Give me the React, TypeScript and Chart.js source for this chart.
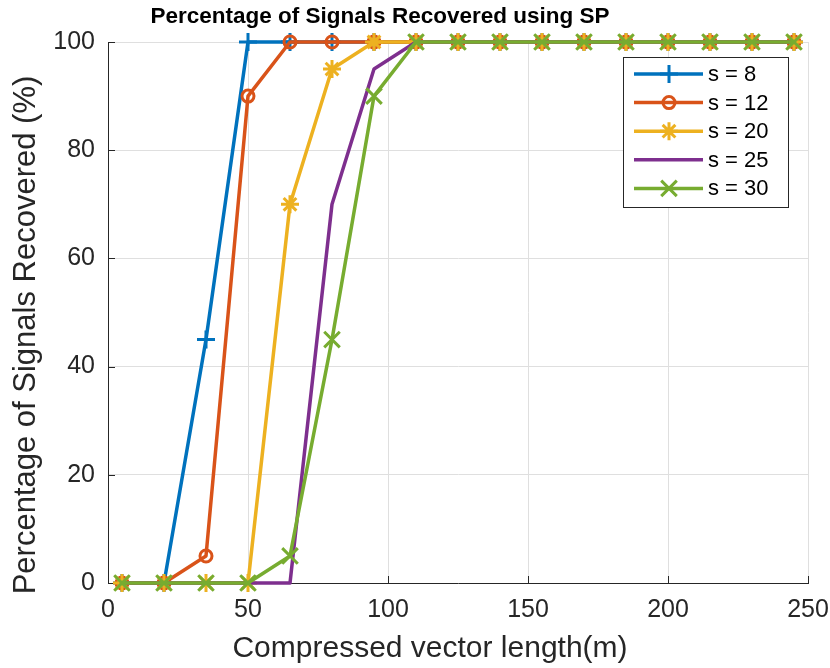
import React, { useEffect, useRef } from 'react';
import { Chart, registerables } from 'chart.js';

Chart.register(...registerables);

const xValues = [5, 20, 35, 50, 65, 80, 95, 110, 125, 140, 155, 170, 185, 200, 215, 230, 245];
const s8 = [0, 0, 45, 100, 100, 100, 100, 100, 100, 100, 100, 100, 100, 100, 100, 100, 100];
const s12 = [0, 0, 5, 90, 100, 100, 100, 100, 100, 100, 100, 100, 100, 100, 100, 100, 100];
const s20 = [0, 0, 0, 0, 70, 95, 100, 100, 100, 100, 100, 100, 100, 100, 100, 100, 100];
const s25 = [0, 0, 0, 0, 0, 70, 95, 100, 100, 100, 100, 100, 100, 100, 100, 100, 100];
const s30 = [0, 0, 0, 0, 5, 45, 90, 100, 100, 100, 100, 100, 100, 100, 100, 100, 100];

const seriesLabels = ['s = 8', 's = 12', 's = 20', 's = 25', 's = 30'];
const seriesValues = [s8, s12, s20, s25, s30];
const seriesColors = ['#0072BD', '#D95319', '#EDB120', '#7E2F8E', '#77AC30'];
const seriesMarkers = ['cross', 'circle', 'star', 'none', 'crossRot'];
const markerRadii = [9, 6, 9, 0, 11];

const xTicks = [0, 50, 100, 150, 200, 250];
const yTicks = [0, 20, 40, 60, 80, 100];

const titleText = 'Percentage of Signals Recovered using SP';
const xTitle = 'Compressed vector length(m)';
const yTitle = 'Percentage of Signals Recovered (%)';

const FONT = '"Liberation Sans", Arial, Helvetica, sans-serif';
const AXIS_COLOR = '#262626';

function drawMarker(ctx: CanvasRenderingContext2D, style: string, x: number, y: number, r: number) {
  if (style === 'none' || r <= 0) return;
  ctx.beginPath();
  if (style === 'cross' || style === 'star') {
    ctx.moveTo(x, y - r);
    ctx.lineTo(x, y + r);
    ctx.moveTo(x - r, y);
    ctx.lineTo(x + r, y);
  }
  if (style === 'crossRot' || style === 'star') {
    const d = r * Math.SQRT1_2;
    ctx.moveTo(x - d, y - d);
    ctx.lineTo(x + d, y + d);
    ctx.moveTo(x - d, y + d);
    ctx.lineTo(x + d, y - d);
  }
  if (style === 'circle') {
    ctx.arc(x, y, r, 0, Math.PI * 2);
  }
  ctx.stroke();
}

const extrasPlugin = {
  id: 'matlabExtras',
  beforeDatasetsDraw(chart: any) {
    const ctx: CanvasRenderingContext2D = chart.ctx;
    const xs = chart.scales.x;
    const ys = chart.scales.y;
    const area = chart.chartArea;
    const tl = 7;
    ctx.save();
    ctx.strokeStyle = AXIS_COLOR;
    ctx.lineWidth = 1;
    ctx.beginPath();
    for (const t of xTicks) {
      const px = Math.round(xs.getPixelForValue(t)) + 0.5;
      ctx.moveTo(px, area.bottom);
      ctx.lineTo(px, area.bottom - tl);
    }
    for (const t of yTicks) {
      const py = Math.round(ys.getPixelForValue(t)) + 0.5;
      ctx.moveTo(area.left, py);
      ctx.lineTo(area.left + tl, py);
    }
    ctx.stroke();
    ctx.restore();
  },
  afterDraw(chart: any) {
    const ctx: CanvasRenderingContext2D = chart.ctx;
    ctx.save();
    // Title
    ctx.fillStyle = '#000000';
    ctx.font = `bold 22.5px ${FONT}`;
    ctx.textAlign = 'center';
    ctx.textBaseline = 'alphabetic';
    ctx.fillText(titleText, 380, 23);
    // X axis title
    ctx.fillStyle = AXIS_COLOR;
    ctx.font = `30px ${FONT}`;
    ctx.fillText(xTitle, 430, 657);
    // Y axis title
    ctx.save();
    ctx.font = `31px ${FONT}`;
    ctx.translate(35, 335);
    ctx.rotate(-Math.PI / 2);
    ctx.fillText(yTitle, 0, 0);
    ctx.restore();

    // Legend
    const bx = 623.5, by = 57.5, bw = 165, bh = 150;
    ctx.fillStyle = '#ffffff';
    ctx.fillRect(bx, by, bw, bh);
    ctx.strokeStyle = AXIS_COLOR;
    ctx.lineWidth = 1;
    ctx.strokeRect(bx, by, bw, bh);
    ctx.font = `22px ${FONT}`;
    ctx.textAlign = 'left';
    ctx.textBaseline = 'middle';
    ctx.lineCap = 'butt';
    ctx.lineJoin = 'round';
    chart.data.datasets.forEach((ds: any, i: number) => {
      const y = 74 + i * 28.6;
      ctx.strokeStyle = seriesColors[i];
      ctx.lineWidth = 3.5;
      ctx.beginPath();
      ctx.moveTo(634, y);
      ctx.lineTo(703, y);
      ctx.stroke();
      ctx.lineWidth = 3;
      drawMarker(ctx, seriesMarkers[i], 669, y, markerRadii[i]);
      ctx.fillStyle = '#000000';
      ctx.fillText(ds.label, 708, y + 1);
    });
    ctx.restore();
  },
};

export default function App() {
  const canvasRef = useRef<HTMLCanvasElement>(null);

  useEffect(() => {
    if (!canvasRef.current) return;
    const datasets = seriesLabels.map((label, i) => ({
      label,
      data: xValues.map((x, j) => ({ x, y: seriesValues[i][j] })),
      borderColor: seriesColors[i],
      backgroundColor: seriesColors[i],
      borderWidth: 3.5,
      borderJoinStyle: 'round' as const,
      pointStyle: seriesMarkers[i] === 'none' ? 'circle' : seriesMarkers[i],
      pointRadius: markerRadii[i],
      pointHoverRadius: markerRadii[i],
      pointBorderWidth: 3,
      pointBorderColor: seriesColors[i],
      pointBackgroundColor: 'rgba(0,0,0,0)',
      tension: 0,
      fill: false,
      clip: false as const,
      order: seriesLabels.length - i,
    }));

    const chart = new Chart(canvasRef.current, {
      type: 'line',
      data: { datasets },
      options: {
        responsive: false,
        animation: false,
        devicePixelRatio: 1,
        layout: { padding: { left: 0, right: 22, top: 42, bottom: 0 } },
        plugins: {
          legend: { display: false },
          title: { display: false },
          tooltip: { enabled: false },
        },
        scales: {
          x: {
            type: 'linear',
            min: 0,
            max: 250,
            afterFit: (scale: any) => {
              scale.height = 85;
              scale.paddingLeft = 0;
              scale.paddingRight = 0;
            },
            afterBuildTicks: (scale: any) => { scale.ticks = xTicks.map((v) => ({ value: v })); },
            ticks: {
              font: { family: FONT, size: 25 },
              color: AXIS_COLOR,
              padding: 12,
              maxRotation: 0,
            },
            grid: { color: '#dfdfdf', lineWidth: 1, drawTicks: false },
            border: { display: true, color: AXIS_COLOR, width: 1 },
          },
          y: {
            type: 'linear',
            min: 0,
            max: 100,
            afterFit: (scale: any) => {
              scale.width = 108;
              scale.paddingTop = 0;
              scale.paddingBottom = 0;
            },
            afterBuildTicks: (scale: any) => { scale.ticks = yTicks.map((v) => ({ value: v })); },
            ticks: {
              font: { family: FONT, size: 25 },
              color: AXIS_COLOR,
              padding: 13,
            },
            grid: { color: '#dfdfdf', lineWidth: 1, drawTicks: false },
            border: { display: true, color: AXIS_COLOR, width: 1 },
          },
        },
      },
      plugins: [extrasPlugin],
    });
    return () => chart.destroy();
  }, []);

  return (
    <canvas
      ref={canvasRef}
      width={830}
      height={668}
      style={{ position: 'absolute', left: 0, top: 0, width: 830, height: 668 }}
    />
  );
}
